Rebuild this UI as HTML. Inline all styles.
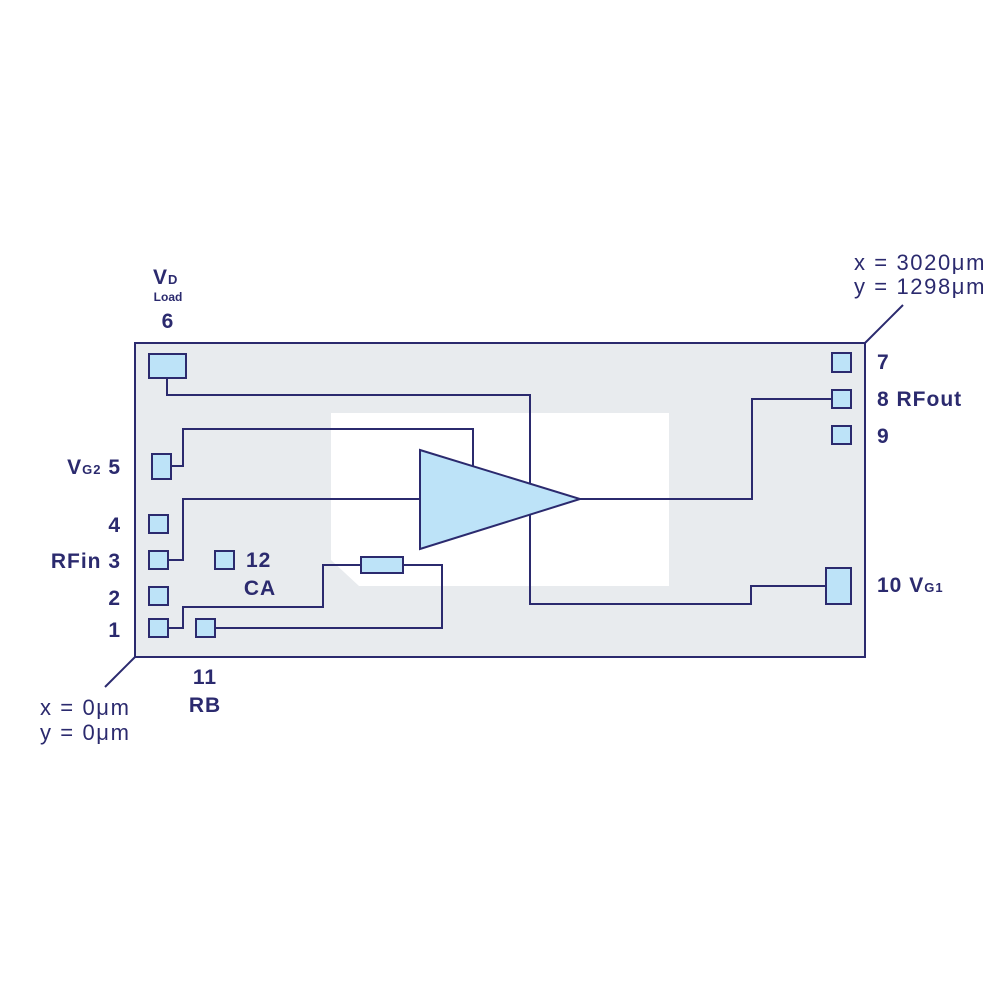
<!DOCTYPE html>
<html><head><style>
body{margin:0;background:#fff}
svg text{font-family:"Liberation Sans",sans-serif;fill:#2b2a6e}
.b{font-weight:bold;font-size:21px;letter-spacing:1px}
.n{font-size:22px;letter-spacing:1.6px}
</style></head><body>
<svg width="1000" height="1000" viewBox="0 0 1000 1000" xmlns="http://www.w3.org/2000/svg">
<rect x="135" y="343" width="730" height="314" fill="#e8ebee" stroke="#2b2a6e" stroke-width="2"/>
<polygon points="331,413 669,413 669,586 359,586 331,560" fill="#fff"/>
<g fill="none" stroke="#2b2a6e" stroke-width="2">
<polyline points="167,378 167,395 530,395 530,604 751,604 751,586 826,586"/>
<polyline points="171,466 183,466 183,429 473,429 473,467"/>
<polyline points="168,560 183,560 183,499 420,499"/>
<polyline points="580,499 752,499 752,399 832,399"/>
<polyline points="215,628 442,628 442,565 403,565"/>
<polyline points="168,628 183,628 183,607 323,607 323,565 361,565"/>
<line x1="865" y1="343" x2="903" y2="305"/>
<line x1="135" y1="657" x2="105" y2="687"/>
</g>
<g fill="#bde3f8" stroke="#2b2a6e" stroke-width="2">
<polygon points="420,450 580,499 420,549"/>
<rect x="149" y="354" width="37" height="24"/>
<rect x="152" y="454" width="19" height="25"/>
<rect x="149" y="515" width="19" height="18"/>
<rect x="149" y="551" width="19" height="18"/>
<rect x="149" y="587" width="19" height="18"/>
<rect x="149" y="619" width="19" height="18"/>
<rect x="215" y="551" width="19" height="18"/>
<rect x="196" y="619" width="19" height="18"/>
<rect x="361" y="557" width="42" height="16"/>
<rect x="832" y="353" width="19" height="19"/>
<rect x="832" y="390" width="19" height="18"/>
<rect x="832" y="426" width="19" height="18"/>
<rect x="826" y="568" width="25" height="36"/>
</g>
<text class="b" x="877" y="369">7</text>
<text class="b" x="877" y="406">8 RFout</text>
<text class="b" x="877" y="443">9</text>
<text class="b" x="877" y="592">10 V<tspan font-size="13">G1</tspan></text>
<text class="n" x="986" y="270" text-anchor="end">x = 3020μm</text>
<text class="n" x="986" y="294" text-anchor="end">y = 1298μm</text>
<text class="n" x="40" y="715">x = 0μm</text>
<text class="n" x="40" y="740">y = 0μm</text>
<text class="b" x="205" y="684" text-anchor="middle">11</text>
<text class="b" x="205" y="712" text-anchor="middle">RB</text>
<text class="b" x="246" y="567">12</text>
<text class="b" x="260" y="595" text-anchor="middle">CA</text>
<text class="b" x="121" y="474" text-anchor="end">V<tspan font-size="13">G2</tspan> 5</text>
<text class="b" x="121" y="532" text-anchor="end">4</text>
<text class="b" x="121" y="568" text-anchor="end">RFin 3</text>
<text class="b" x="121" y="605" text-anchor="end">2</text>
<text class="b" x="121" y="637" text-anchor="end">1</text>
<text class="b" x="153" y="284">V<tspan font-size="13">D</tspan></text>
<text x="168" y="301" text-anchor="middle" font-size="12" font-weight="bold">Load</text>
<text class="b" x="168" y="328" text-anchor="middle">6</text>
</svg>
</body></html>
